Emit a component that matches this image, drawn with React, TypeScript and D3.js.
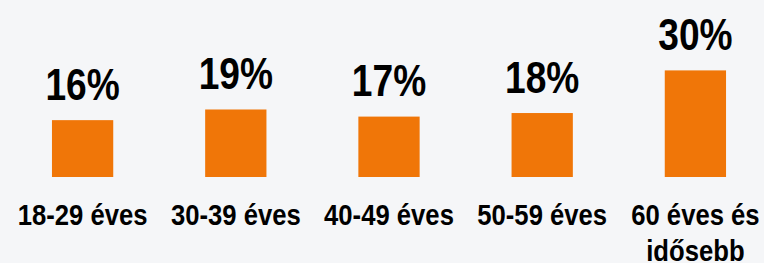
import React from "react";
import * as d3 from "d3";

const categories = ["18-29 éves", "30-39 éves", "40-49 éves", "50-59 éves", "60 éves és idősebb"];
const categoryLines = [["18-29 éves"], ["30-39 éves"], ["40-49 éves"], ["50-59 éves"], ["60 éves és", "idősebb"]];
const values = [16, 19, 17, 18, 30];
const valueLabels = ["16%", "19%", "17%", "18%", "30%"];

const W = 764;
const H = 263;
const FONT = "'Liberation Sans', Arial, sans-serif";

export default function App() {
  const x = d3.scaleBand<string>().domain(categories).range([6, 772]).paddingInner(0.6).paddingOuter(0.3);
  const y = d3.scaleLinear().domain([0, 30]).range([177, 70.4]);
  return (
    <svg width={W} height={H} style={{ position: "absolute", left: 0, top: 0, background: "#f5f6f8" }}>
      <rect x={0} y={0} width={W} height={H} fill="#f5f6f8" />
      {categories.map((c, i) => {
        const bx = x(c)!;
        const cx = bx + x.bandwidth() / 2;
        return (
          <g key={c}>
            <rect x={bx} y={y(values[i])} width={x.bandwidth()} height={y(0) - y(values[i])} fill="#f07608" />
            <text
              transform={`translate(${cx},${y(values[i]) - 20.5}) scale(0.825,1)`}
              textAnchor="middle"
              fontFamily={FONT}
              fontWeight="bold"
              fontSize={45}
              fill="#000"
            >
              {valueLabels[i]}
            </text>
            {categoryLines[i].map((line, j) => (
              <text
                key={j}
                transform={`translate(${cx},${225.3 + j * 35.2}) scale(0.885,1)`}
                textAnchor="middle"
                fontFamily={FONT}
                fontWeight="bold"
                fontSize={29}
                fill="#000"
              >
                {line}
              </text>
            ))}
          </g>
        );
      })}
    </svg>
  );
}
